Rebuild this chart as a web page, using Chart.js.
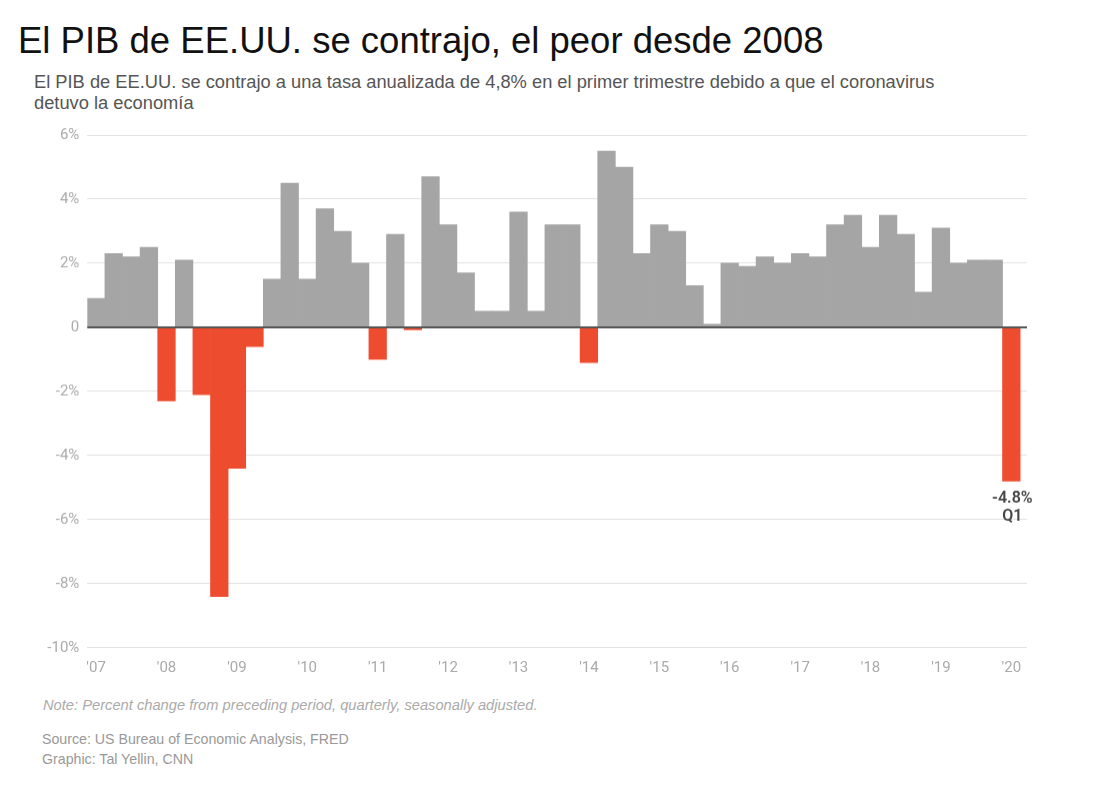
<!DOCTYPE html>
<html lang="es">
<head>
<meta charset="utf-8">
<title>El PIB de EE.UU. se contrajo</title>
<script src="https://cdn.jsdelivr.net/npm/chart.js@4"></script>
<style>
    html, body { margin: 0; padding: 0; background: #fff; }
    body { width: 1110px; height: 790px; position: relative; overflow: hidden; font-family: "Liberation Sans", Arial, sans-serif; }
    .txt { position: absolute; left: 0; white-space: nowrap; }
    #title { left: 18px; top: 20px; font-size: 36.5px; line-height: 42px; color: #111; }
    #subtitle { left: 34px; top: 71px; font-size: 18.3px; line-height: 21px; color: #555; }
    #note { left: 43px; top: 697px; font-size: 14.7px; font-style: italic; color: #aaa; }
    #source { left: 42px; top: 729px; font-size: 14.2px; line-height: 20px; color: #999; }
    #chartBox { position: absolute; left: 0; top: 118px; width: 1110px; height: 571.5px; }
</style>
</head>
<body>
<div class="txt" id="title">El PIB de EE.UU. se contrajo, el peor desde 2008</div>
<div class="txt" id="subtitle">El PIB de EE.UU. se contrajo a una tasa anualizada de 4,8% en el primer trimestre debido a que el coronavirus<br>detuvo la economía</div>
<div class="txt" id="note">Note: Percent change from preceding period, quarterly, seasonally adjusted.</div>
<div class="txt" id="source">Source: US Bureau of Economic Analysis, FRED<br>Graphic: Tal Yellin, CNN</div>
<div id="chartBox"><canvas id="gdpChart"></canvas></div>

<script>
// quarterly change, 2007 Q1 to 2020 Q1
const gdpChange = [
    0.9, 2.3, 2.2, 2.5,
    -2.3, 2.1, -2.1, -8.4,
    -4.4, -0.6, 1.5, 4.5,
    1.5, 3.7, 3.0, 2.0,
    -1.0, 2.9, -0.08, 4.7,
    3.2, 1.7, 0.5, 0.5,
    3.6, 0.5, 3.2, 3.2,
    -1.1, 5.5, 5.0, 2.3,
    3.2, 3.0, 1.3, 0.1,
    2.0, 1.9, 2.2, 2.0,
    2.3, 2.2, 3.2, 3.5,
    2.5, 3.5, 2.9, 1.1,
    3.1, 2.0, 2.1, 2.1,
    -4.8
];
const yearLabels = ["'07", "'08", "'09", "'10", "'11", "'12", "'13", "'14", "'15", "'16", "'17", "'18", "'19", "'20"];
const calloutLines = ['-4.8%', 'Q1'];

const GREY = '#a5a5a5';
const RED = '#ee4c2f';
const TICK_FONT = { family: '"Liberation Sans Narrow", Roboto, sans-serif', size: 15 };

// zero line and the label under the last bar
const overlayPlugin = {
    id: 'overlay',
    afterDatasetsDraw(chart) {
        const { ctx, chartArea, scales } = chart;
        const zero = scales.y.getPixelForValue(0);
        ctx.save();
        ctx.strokeStyle = '#555';
        ctx.lineWidth = 2;
        ctx.beginPath();
        ctx.moveTo(chartArea.left, zero);
        ctx.lineTo(chartArea.right, zero);
        ctx.stroke();

        const lastIndex = gdpChange.length - 1;
        const bar = chart.getDatasetMeta(0).data[lastIndex];
        ctx.fillStyle = '#444';
        ctx.font = '600 16px ' + TICK_FONT.family;
        ctx.textAlign = 'center';
        ctx.textBaseline = 'middle';
        calloutLines.forEach((line, i) => {
            ctx.fillText(line, bar.x + 1, bar.y + 18 + i * 18);
        });
        ctx.restore();
    }
};

new Chart(document.getElementById('gdpChart'), {
    type: 'bar',
    data: {
        datasets: [{
            data: gdpChange.map((v, i) => ({ x: i, y: v })),
            backgroundColor: gdpChange.map(v => v < 0 ? RED : GREY),
            borderWidth: 0,
            barPercentage: 1,
            categoryPercentage: 1
        }]
    },
    options: {
        responsive: true,
        maintainAspectRatio: false,
        animation: false,
        layout: { padding: { top: 13.6, right: 83, left: 0, bottom: 0 } },
        plugins: { legend: { display: false }, tooltip: { enabled: false } },
        scales: {
            x: {
                type: 'linear',
                offset: false,
                min: -0.5,
                max: 52.89,
                grid: { display: false },
                border: { display: false },
                afterBuildTicks(scale) {
                    scale.ticks = yearLabels.map((_, i) => ({ value: i * 4 }));
                },
                afterFit(scale) { scale.height = 42.7; },
                ticks: {
                    autoSkip: false,
                    maxRotation: 0,
                    padding: 3,
                    color: '#aaa',
                    font: TICK_FONT,
                    callback: v => yearLabels[v / 4]
                }
            },
            y: {
                min: -10,
                max: 6,
                grid: { color: '#e2e2e2', lineWidth: 1, drawTicks: false },
                border: { display: false },
                afterFit(scale) { scale.width = 87.3; },
                ticks: {
                    stepSize: 2,
                    padding: 8,
                    color: '#aaa',
                    font: TICK_FONT,
                    callback: v => v === 0 ? '0' : v + '%'
                }
            }
        }
    },
    plugins: [overlayPlugin]
});
</script>
</body>
</html>
